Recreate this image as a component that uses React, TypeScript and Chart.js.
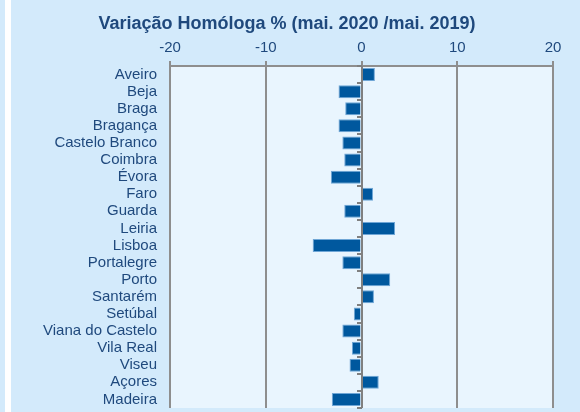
import React, { useEffect, useRef } from "react";
import { Chart, registerables } from "chart.js";

Chart.register(...registerables);

const titleText = "Variação Homóloga % (mai. 2020 /mai. 2019)";
const categories = [
  "Aveiro", "Beja", "Braga", "Bragança", "Castelo Branco", "Coimbra", "Évora",
  "Faro", "Guarda", "Leiria", "Lisboa", "Portalegre", "Porto", "Santarém",
  "Setúbal", "Viana do Castelo", "Vila Real", "Viseu", "Açores", "Madeira",
];
const values = [
  1.4, -2.4, -1.7, -2.4, -2.0, -1.8, -3.2, 1.2, -1.8, 3.5,
  -5.1, -2.0, 3.0, 1.3, -0.8, -2.0, -1.0, -1.25, 1.8, -3.1,
];
const xMin = -20;
const xMax = 20;
const xStep = 10;

const TEXT = "#1F497D";
const GRID = "#8E8E8E";

const decorPlugin = {
  id: "decor",
  beforeDraw(chart: any) {
    const { ctx, chartArea, width, height } = chart;
    ctx.save();
    ctx.fillStyle = "#D3EAFB";
    ctx.fillRect(0, 0, width, height);
    ctx.fillStyle = "#FFFFFF";
    ctx.fillRect(5, 0, 6, height);
    ctx.fillStyle = "#E9F5FE";
    ctx.fillRect(chartArea.left, chartArea.top, chartArea.right - chartArea.left, chartArea.bottom - chartArea.top);
    ctx.restore();
  },
  afterDatasetsDraw(chart: any) {
    const { ctx, chartArea } = chart;
    const xs = chart.scales.x;
    const ys = chart.scales.y;
    const x0 = Math.round(xs.getPixelForValue(0));
    ctx.save();
    ctx.strokeStyle = "#808080";
    ctx.lineWidth = 2;
    ctx.beginPath();
    ctx.moveTo(x0, chartArea.top);
    ctx.lineTo(x0, chartArea.bottom);
    ctx.stroke();
    for (let i = 0; i <= categories.length; i++) {
      const y = Math.round(ys.getPixelForValue(i - 0.5));
      ctx.beginPath();
      ctx.moveTo(x0 - 5, y);
      ctx.lineTo(x0, y);
      ctx.stroke();
    }
    ctx.restore();
  },
  afterDraw(chart: any) {
    const { ctx } = chart;
    ctx.save();
    ctx.fillStyle = TEXT;
    ctx.font = "bold 18px 'Liberation Sans', Arial, sans-serif";
    ctx.textAlign = "center";
    ctx.textBaseline = "alphabetic";
    ctx.fillText(titleText, 287, 29);
    ctx.restore();
  },
};

export default function App() {
  const ref = useRef<HTMLCanvasElement | null>(null);
  useEffect(() => {
    if (!ref.current) return;
    const chart = new Chart(ref.current, {
      type: "bar",
      data: {
        labels: categories,
        datasets: [
          {
            data: values,
            backgroundColor: "#00589E",
            borderColor: "#6FA6D6",
            borderWidth: 1,
            barPercentage: 0.76,
            categoryPercentage: 1.0,
          },
        ],
      },
      options: {
        indexAxis: "y",
        animation: false,
        responsive: false,
        devicePixelRatio: 1,
        layout: { padding: { left: 18, right: 27, top: 0, bottom: 4 } },
        plugins: {
          legend: { display: false },
          tooltip: { enabled: false },
          title: { display: false },
        },
        scales: {
          x: {
            position: "top",
            min: xMin,
            max: xMax,
            afterFit: (s: any) => {
              s.height = 66;
              s.paddingLeft = 0;
              s.paddingRight = 0;
            },
            ticks: {
              stepSize: xStep,
              color: TEXT,
              padding: 4,
              font: { family: "'Liberation Sans', Arial, sans-serif", size: 15 },
            },
            grid: {
              color: GRID,
              lineWidth: 2,
              drawTicks: true,
              tickLength: 5,
              tickColor: GRID,
            },
            border: { display: true, color: GRID, width: 2 },
          },
          y: {
            afterFit: (s: any) => {
              s.width = 152;
              s.paddingTop = 0;
              s.paddingBottom = 0;
            },
            ticks: {
              color: TEXT,
              padding: 13,
              autoSkip: false,
              font: { family: "'Liberation Sans', Arial, sans-serif", size: 15 },
            },
            grid: { display: false, drawTicks: false },
            border: { display: false },
          },
        },
      },
      plugins: [decorPlugin],
    });
    return () => chart.destroy();
  }, []);
  return (
    <div style={{ position: "fixed", left: 0, top: 0, width: 580, height: 412 }}>
      <canvas ref={ref} width={580} height={412} style={{ display: "block" }} />
    </div>
  );
}
